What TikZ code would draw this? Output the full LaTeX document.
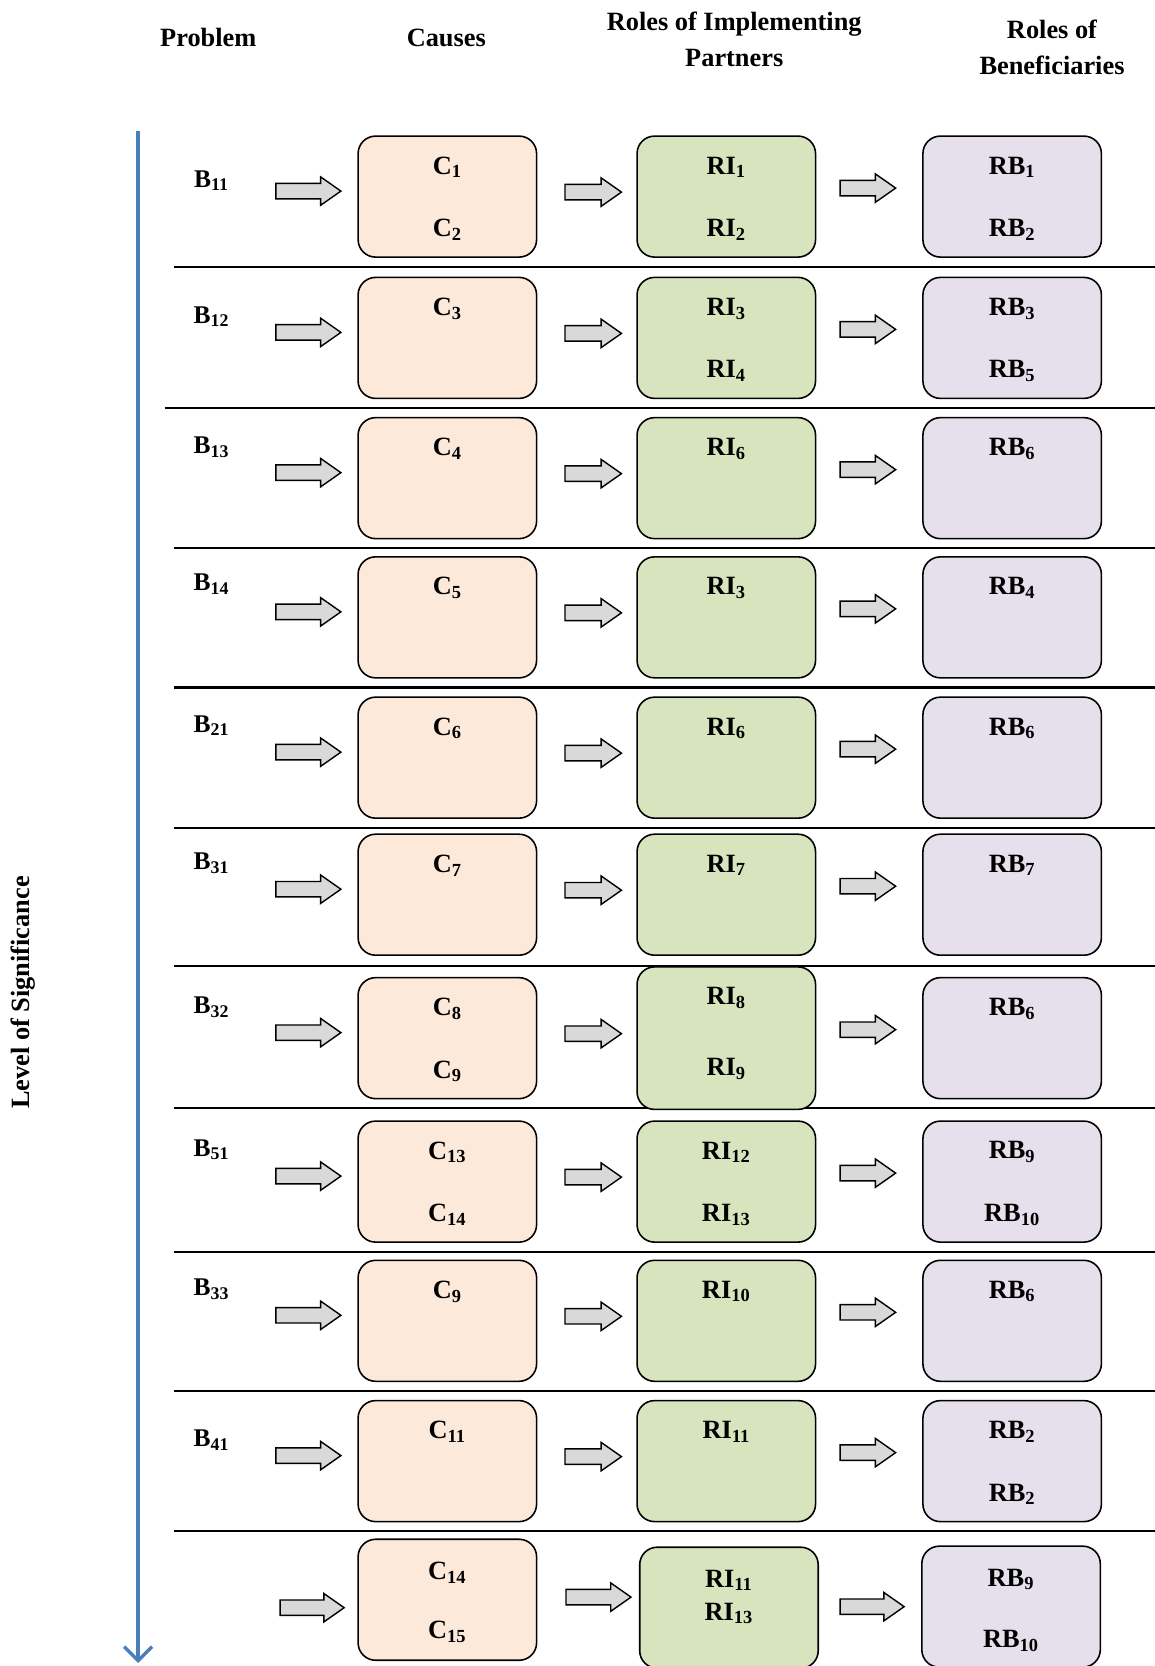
\documentclass[tikz,border=0pt]{standalone}
\usepackage{fontspec}
\setmainfont{Liberation Serif}
\usetikzlibrary{arrows.meta,positioning,shapes.arrows,calc}
\definecolor{causefill}{HTML}{FDE9D9}
\definecolor{partnerfill}{HTML}{D7E4BD}
\definecolor{benefill}{HTML}{E5E0EC}
\definecolor{arrowgray}{HTML}{D9D9D9}
\definecolor{axisblue}{HTML}{4A7EBB}
\newcommand{\sub}[1]{\textsubscript{#1}}
\tikzset{
  headtext/.style={font=\fontsize{15}{20.5}\selectfont\bfseries,align=center},
  boxtext/.style={font=\fontsize{15}{18}\selectfont\bfseries,inner sep=0pt},
  probtext/.style={font=\fontsize{14.5}{18}\selectfont\bfseries,inner sep=0pt},
  stepbox/.style={draw=black,line width=0.9pt,rounded corners=0.35cm,
                  minimum width=3.57cm,minimum height=2.42cm,inner sep=0pt},
  causebox/.style={stepbox,fill=causefill},
  partnerbox/.style={stepbox,fill=partnerfill},
  benebox/.style={stepbox,fill=benefill},
  blockarr/.style={single arrow,draw=black,fill=arrowgray,line width=0.8pt,
                   inner xsep=0pt,inner ysep=0.14cm,single arrow head extend=0.13cm,
                   single arrow tip angle=70,minimum height=#1,anchor=tail},
  rowline/.style={line width=1.3pt,draw=black},
  axisline/.style={line width=1.9pt,draw=axisblue,
                   -{Straight Barb[length=2.8mm,width=5.6mm]}}
}
\begin{document}
\begin{tikzpicture}[x=1cm,y=1cm]
    \path[use as bounding box] (0,0) rectangle (23.10,-33.32);
    % column headings
    \node[headtext] (hprob) at (4.165,-0.744) {Problem};
    \node[headtext] (hcause) at (8.926,-0.765) {Causes};
    \node[headtext] (hpart) at (14.685,-0.787) {Roles of Implementing\\Partners};
    \node[headtext] (hbene) at (21.04,-0.956) {Roles of\\Beneficiaries};
    \node[headtext,rotate=90] (hlevel) at (0.468,-19.85) {Level of Significance};
    % significance axis
    \coordinate (axtop) at (2.763,-2.614);
    \coordinate (axbot) at (2.763,-33.26);
    \draw[axisline] (axtop) -- (axbot);
    % row separators
    \foreach \ys/\xs in {5.334/3.485,8.161/3.294,10.966/3.485,13.750/3.485,
                         16.555/3.485,19.318/3.485,22.166/3.485,25.035/3.485,
                         27.819/3.485,30.624/3.485}{
      \draw[rowline] (\xs,-\ys) -- (23.10,-\ys);
    }
    % rows
    \foreach \n/\yc/\yb/\bl/\ca/\cb/\ria/\rib/\rih/\rio/\rba/\rbb in {
      1/3.932/3.613/B\sub{11}/C\sub{1}/C\sub{2}/RI\sub{1}/RI\sub{2}/2.42/1.89/RB\sub{1}/RB\sub{2},
      2/6.758/6.333/B\sub{12}/C\sub{3}/{}/RI\sub{3}/RI\sub{4}/2.42/1.89/RB\sub{3}/RB\sub{5},
      3/9.563/8.947/B\sub{13}/C\sub{4}/{}/RI\sub{6}/{}/2.42/1.89/RB\sub{6}/{},
      4/12.347/11.689/B\sub{14}/C\sub{5}/{}/RI\sub{3}/{}/2.42/1.89/RB\sub{4}/{},
      5/15.153/14.515/B\sub{21}/C\sub{6}/{}/RI\sub{6}/{}/2.42/1.89/RB\sub{6}/{},
      6/17.894/17.257/B\sub{31}/C\sub{7}/{}/RI\sub{7}/{}/2.42/1.89/RB\sub{7}/{},
      7/20.763/20.147/B\sub{32}/C\sub{8}/C\sub{9}/RI\sub{8}/RI\sub{9}/2.85/2.06/RB\sub{6}/{},
      8/23.632/22.995/B\sub{51}/C\sub{13}/C\sub{14}/RI\sub{12}/RI\sub{13}/2.42/1.89/RB\sub{9}/RB\sub{10},
      9/26.416/25.779/B\sub{33}/C\sub{9}/{}/RI\sub{10}/{}/2.42/1.89/RB\sub{6}/{},
      10/29.222/28.796/B\sub{41}/C\sub{11}/{}/RI\sub{11}/{}/2.42/1.89/RB\sub{2}/RB\sub{2}}{
      \node[probtext] (b\n) at (4.229,-\yb) {\bl};
      \node[causebox] (c\n) at (8.947,-\yc) {};
      \node[partnerbox,minimum height=\rih cm] (ri\n) at (14.526,-\yc) {};
      \node[benebox] (rb\n) at (20.243,-\yc) {};
      \node[boxtext] (ca\n) at ([yshift=-0.64cm]c\n.north) {\ca};
      \node[boxtext] (cb\n) at ([yshift=-1.89cm]c\n.north) {\cb};
      \node[boxtext] (ria\n) at ([yshift=-0.64cm]ri\n.north) {\ria};
      \node[boxtext] (rib\n) at ([yshift=-\rio cm]ri\n.north) {\rib};
      \node[boxtext] (rba\n) at ([yshift=-0.64cm]rb\n.north) {\rba};
      \node[boxtext] (rbb\n) at ([yshift=-1.89cm]rb\n.north) {\rbb};
      \node[blockarr=1.30cm] (pa\n) at (5.504,-\yc+0.11) {};
      \node[blockarr=1.13cm] (pb\n) at (11.285,-\yc+0.09) {};
      \node[blockarr=1.11cm] (pc\n) at (16.789,-\yc+0.17) {};
    }
    % last row
    \node[causebox] (c11) at (8.947,-31.995) {};
    \node[partnerbox] (ri11) at (14.579,-32.154) {};
    \node[benebox] (rb11) at (20.221,-32.133) {};
    \node[boxtext] (ca11) at ([yshift=-0.68cm]c11.north) {C\sub{14}};
    \node[boxtext] (cb11) at ([yshift=-1.87cm]c11.north) {C\sub{15}};
    \node[boxtext] (ria11) at ([yshift=-0.68cm]ri11.north) {RI\sub{11}};
    \node[boxtext] (rib11) at ([yshift=-1.34cm]ri11.north) {RI\sub{13}};
    \node[boxtext] (rba11) at ([yshift=-0.68cm]rb11.north) {RB\sub{9}};
    \node[boxtext] (rbb11) at ([yshift=-1.91cm]rb11.north) {RB\sub{10}};
    \node[blockarr=1.28cm] (pa11) at (5.589,-32.154) {};
    \node[blockarr=1.30cm] (pb11) at (11.306,-31.942) {};
    \node[blockarr=1.28cm] (pc11) at (16.789,-32.133) {};
  \end{tikzpicture}
\end{document}
